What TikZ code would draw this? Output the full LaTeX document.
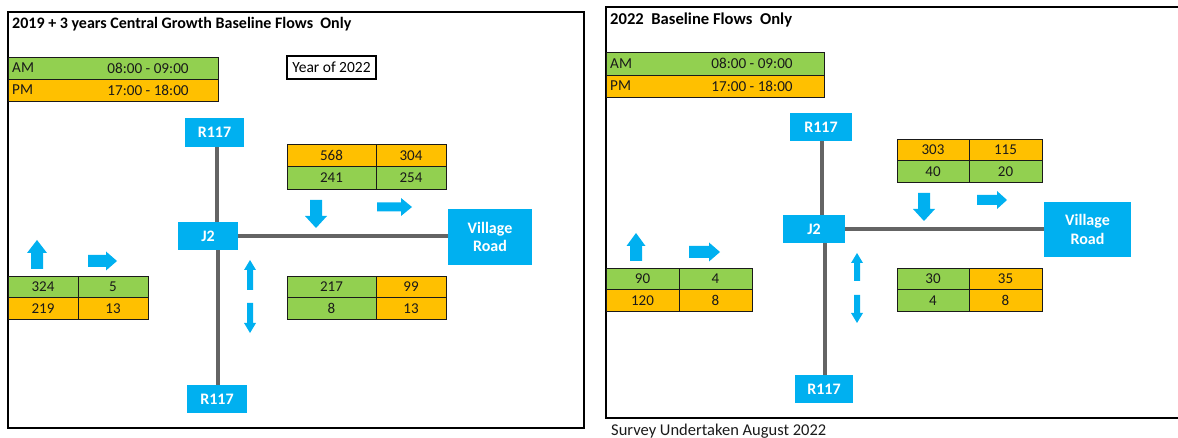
\documentclass[tikz,border=0pt]{standalone}
\usepackage{fontspec}
\setmainfont{Carlito}
\definecolor{gr}{HTML}{92D050}
\definecolor{og}{HTML}{FFC000}
\definecolor{bl}{HTML}{00B0F0}
\definecolor{rd}{HTML}{646464}
\definecolor{ink}{HTML}{1A1A1A}
\tikzset{
  cell/.style={draw=ink, line width=0.9pt, inner sep=0pt, font=\fontsize{15}{17}\selectfont, text=ink},
  bluebox/.style={fill=bl, inner sep=0pt, text=white, font=\bfseries\fontsize{16}{18.5}\selectfont, align=center},
  road/.style={draw=rd, line width=4pt},
  frame/.style={draw=black, line width=2pt},
  txt/.style={inner sep=0pt, text=ink, font=\fontsize{15.2}{17}\selectfont},
  ttl/.style={inner sep=0pt, text=black, font=\bfseries\fontsize{16}{18}\selectfont},
  pics/barrow/.style n args={4}{code={
    \fill[bl] (0,-#2) -- ({#1-#4},-#2) -- ({#1-#4},-#3) -- (#1,0) -- ({#1-#4},#3) -- ({#1-#4},#2) -- (0,#2) -- cycle;}}
}
\newcommand\cellat[7]{\node[cell, fill=#6, minimum width={#4-#2}, minimum height={#5-#3}] (#1) at ({(#2+#4)/2},{(#3+#5)/2}) {#7};}
\newcommand\blueat[6]{\node[bluebox, minimum width={#4-#2}, minimum height={#5-#3}] (#1) at ({(#2+#4)/2},{(#3+#5)/2}) {#6};}
\begin{document}
\begin{tikzpicture}[x=1pt,y=-1pt]
\useasboundingbox (0,0) rectangle (1178,438);
% ---------------- left panel ----------------
\draw[frame] (8,12) rectangle (584,428);
\node[ttl, anchor=west] (lt) at (12,24) {2019 + 3 years Central Growth Baseline Flows~~Only};
\cellat{lam}{8}{57}{218}{79}{gr}{}
\cellat{lpm}{8}{79}{218}{101}{og}{}
\node[txt, anchor=west] (lamt) at (12,68) {AM};
\node[txt] (lamh) at (148,68) {08:00 - 09:00};
\node[txt, anchor=west] (lpmt) at (12,90) {PM};
\node[txt] (lpmh) at (148,90) {17:00 - 18:00};
\node[draw=black, line width=1.6pt, inner sep=0pt, minimum width=89, minimum height=23, font=\fontsize{15.5}{17}\selectfont] (year) at (331.5,67.5) {Year of 2022};
\blueat{lr1}{185}{118}{244}{147}{R117}
\blueat{lj2}{178}{222}{238}{250}{J2}
\blueat{lvr}{448}{209}{532}{265}{Village\\Road}
\blueat{lr2}{187}{385}{247}{413}{R117}
\coordinate (lxa) at (217,0);
\coordinate (lxb) at (218,0);
\draw[road] (lr1.south -| lxa) -- (lj2.north -| lxa);
\draw[road] (lj2.south -| lxb) -- (lr2.north -| lxb);
\draw[road] (lj2.east) -- (lvr.west |- lj2.east);
\cellat{la1}{287}{144}{376}{166.5}{og}{568}
\cellat{la2}{376}{144}{446}{166.5}{og}{304}
\cellat{la3}{287}{166.5}{376}{189}{gr}{241}
\cellat{la4}{376}{166.5}{446}{189}{gr}{254}
\cellat{lb1}{287}{276}{376}{297.5}{gr}{217}
\cellat{lb2}{376}{276}{446}{297.5}{og}{99}
\cellat{lb3}{287}{297.5}{376}{319}{gr}{8}
\cellat{lb4}{376}{297.5}{446}{319}{og}{13}
\cellat{lc1}{8}{276}{78}{297.5}{gr}{324}
\cellat{lc2}{78}{276}{148}{297.5}{gr}{5}
\cellat{lc3}{8}{297.5}{78}{319}{og}{219}
\cellat{lc4}{78}{297.5}{148}{319}{og}{13}
\pic[rotate=-90] at (316,200) {barrow={28}{6}{11}{12}};
\pic at (377,207) {barrow={35}{4.5}{9}{11}};
\pic[rotate=90] at (37,269) {barrow={29}{6}{10}{13}};
\pic at (88,261) {barrow={29}{6}{9.5}{11}};
\pic[rotate=90] at (250,290) {barrow={30}{3}{6}{10}};
\pic[rotate=-90] at (250,303) {barrow={30}{3}{6}{10}};
% ---------------- right panel ----------------
\draw[frame] (1178,7) -- (606,7) -- (606,418) -- (1178,418);
\node[ttl, anchor=west, font=\bfseries\fontsize{16.6}{18}\selectfont] (rt) at (610,20) {2022~~Baseline Flows~~Only};
\cellat{ram}{606}{52}{824}{75}{gr}{}
\cellat{rpm}{606}{75}{824}{97}{og}{}
\node[txt, anchor=west] (ramt) at (610,63.5) {AM};
\node[txt] (ramh) at (752,63.5) {08:00 - 09:00};
\node[txt, anchor=west] (rpmt) at (610,86) {PM};
\node[txt] (rpmh) at (752,86) {17:00 - 18:00};
\blueat{rr1}{790}{113}{852}{141}{R117}
\blueat{rj2}{783}{215}{845}{243}{J2}
\blueat{rvr}{1044}{202}{1131}{257}{Village\\Road}
\blueat{rr2}{795}{375}{853}{403}{R117}
\coordinate (rxa) at (822,0);
\coordinate (rxb) at (825,0);
\draw[road] (rr1.south -| rxa) -- (rj2.north -| rxa);
\draw[road] (rj2.south -| rxb) -- (rr2.north -| rxb);
\draw[road] (rj2.east) -- (rvr.west |- rj2.east);
\cellat{ra1}{897}{139}{969}{160.5}{og}{303}
\cellat{ra2}{969}{139}{1042}{160.5}{og}{115}
\cellat{ra3}{897}{160.5}{969}{182}{gr}{40}
\cellat{ra4}{969}{160.5}{1042}{182}{gr}{20}
\cellat{rb1}{897}{268}{969}{289.5}{gr}{30}
\cellat{rb2}{969}{268}{1042}{289.5}{og}{35}
\cellat{rb3}{897}{289.5}{969}{311}{gr}{4}
\cellat{rb4}{969}{289.5}{1042}{311}{og}{8}
\cellat{rc1}{606}{268}{679}{289.5}{gr}{90}
\cellat{rc2}{679}{268}{752}{289.5}{gr}{4}
\cellat{rc3}{606}{289.5}{679}{311}{og}{120}
\cellat{rc4}{679}{289.5}{752}{311}{og}{8}
\pic[rotate=-90] at (924,193) {barrow={28}{6}{11}{12}};
\pic at (977,200) {barrow={30}{5}{9}{10}};
\pic[rotate=90] at (636,261) {barrow={28}{6}{9.5}{13}};
\pic at (689,252) {barrow={31}{6}{9.5}{11}};
\pic[rotate=90] at (857,281) {barrow={28}{3}{6}{10}};
\pic[rotate=-90] at (857,295) {barrow={28}{3}{6}{10}};
\node[txt, anchor=west, font=\fontsize{16.5}{18}\selectfont] (survey) at (611,431) {Survey Undertaken August 2022};
\end{tikzpicture}
\end{document}
